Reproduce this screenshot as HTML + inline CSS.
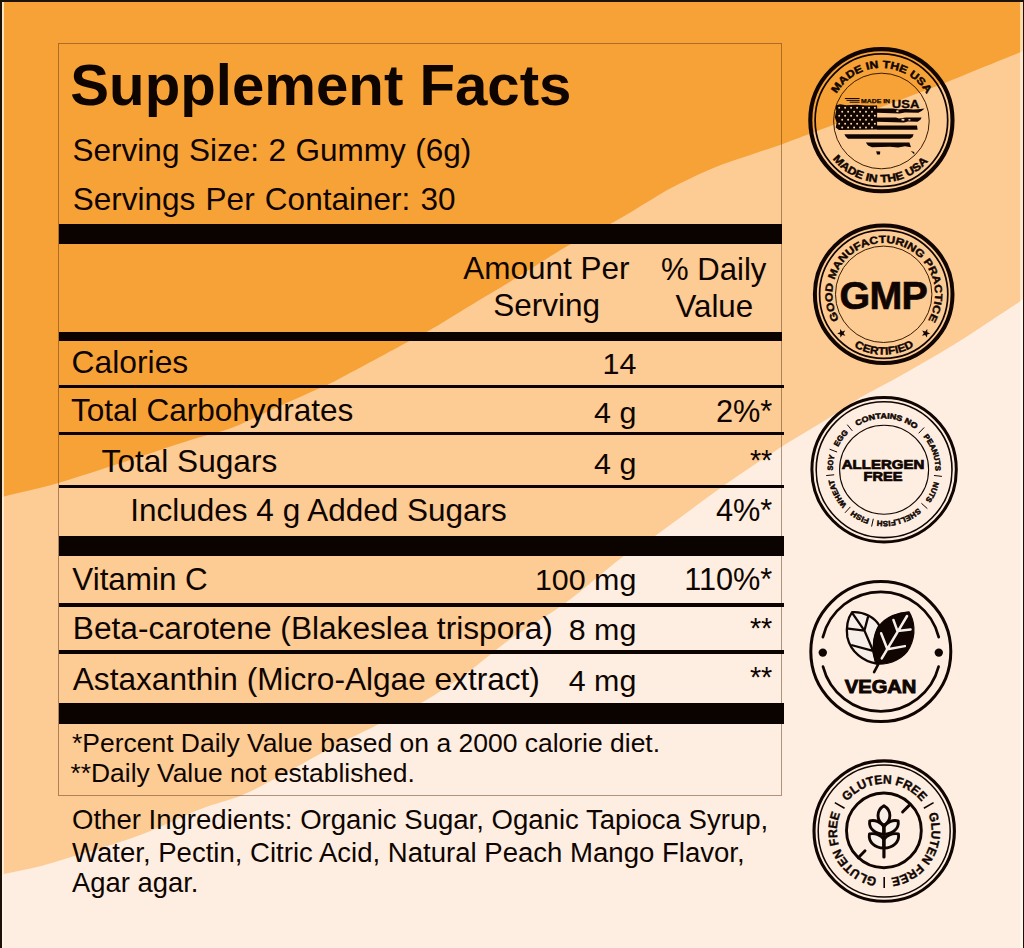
<!DOCTYPE html>
<html lang="en">
<head>
<meta charset="utf-8">
<title>Supplement Facts</title>
<style>
html,body{margin:0;padding:0;}
body{width:1024px;height:948px;overflow:hidden;background:#FEEEE1;font-family:"Liberation Sans",sans-serif;color:#0e0500;}
#page{position:relative;width:1024px;height:948px;overflow:hidden;}
.bg{position:absolute;left:0;top:0;display:block;}
.t{position:absolute;white-space:nowrap;color:#0e0500;}
.ln,.edge{position:absolute;}
.box{position:absolute;box-sizing:border-box;border:1.5px solid rgba(95,55,25,.5);}
.badges{position:absolute;left:0;top:0;}
</style>
</head>
<body>
<div id="page">
<svg class="bg" width="1024" height="948" viewBox="0 0 1024 948">
<rect width="1024" height="948" fill="#F7A236"/>
<path d="M-10.0,501.0 C-7.5,500.2 -6.3,499.3 5.0,496.3 C16.3,493.3 37.7,488.9 58.0,483.0 C78.3,477.1 105.2,468.1 127.0,461.0 C148.8,453.9 171.2,446.2 189.0,440.5 C206.8,434.8 219.3,432.5 234.0,427.0 C248.7,421.5 263.3,413.5 277.0,407.3 C290.7,401.1 306.0,394.4 316.0,389.8 C326.0,385.2 321.3,388.2 337.0,380.0 C352.7,371.8 394.2,349.2 410.4,340.5 C426.6,331.8 423.9,333.6 434.3,327.5 C444.7,321.4 459.4,312.1 473.0,303.9 C486.6,295.7 499.8,288.0 515.9,278.1 C532.0,268.2 553.1,254.2 569.6,244.8 C586.1,235.4 601.5,228.8 614.7,221.5 C628.0,214.2 639.4,206.8 649.1,201.0 C658.8,195.2 661.9,192.7 673.0,187.0 C684.1,181.3 701.6,172.8 715.9,167.0 C730.2,161.2 748.0,155.8 758.9,152.0 C769.8,148.2 772.5,147.7 781.5,144.4 C790.5,141.2 796.5,138.7 812.9,132.5 C829.3,126.3 857.5,116.0 880.0,107.5 C902.5,99.0 930.3,88.5 947.7,81.7 C965.1,74.9 972.0,71.8 984.2,66.8 C996.4,61.8 1011.5,55.8 1020.8,52.0 C1030.1,48.2 1036.8,45.3 1040.0,44.0 L1040,958 L-10,958 Z" fill="#FDCB94"/>
<path d="M-10.0,877.0 C-7.7,876.5 -4.3,875.8 3.9,874.0 C12.1,872.2 29.0,869.0 39.0,866.5 C49.0,864.0 52.0,862.8 64.0,859.2 C76.0,855.6 96.1,850.0 110.9,845.1 C125.7,840.2 138.2,835.9 153.0,829.9 C167.8,823.9 185.2,815.0 200.0,809.2 C214.8,803.4 229.1,800.5 242.0,795.2 C254.9,789.9 264.8,784.1 277.2,777.6 C289.6,771.1 304.6,762.5 316.3,756.1 C328.0,749.8 337.7,744.5 347.5,739.5 C357.3,734.5 362.6,732.2 375.0,726.0 C387.4,719.8 406.7,711.3 422.0,702.5 C437.3,693.7 452.5,683.4 467.0,673.0 C481.5,662.6 492.5,651.8 509.0,640.0 C525.5,628.2 547.4,616.1 566.0,602.5 C584.6,588.9 605.6,569.7 620.6,558.5 C635.6,547.3 638.3,547.8 655.7,535.5 C673.1,523.2 703.6,499.7 725.0,484.7 C746.4,469.7 766.9,456.3 784.0,445.3 C801.1,434.3 815.0,426.6 827.7,418.7 C840.4,410.8 849.3,404.1 860.0,397.8 C870.7,391.5 881.3,386.5 892.0,380.6 C902.7,374.7 913.4,368.5 924.1,362.3 C934.8,356.1 945.4,349.9 956.1,343.2 C966.8,336.5 977.7,329.2 988.1,322.4 C998.5,315.6 1009.9,308.1 1018.5,302.4 C1027.2,296.7 1036.4,290.4 1040.0,288.0 L1040,958 L-10,958 Z" fill="#FEEEE1"/>
</svg>
<div class="edge" style="left:0;top:0;width:1024px;height:2px;background:#1d1208"></div>
<div class="edge" style="left:0;top:0;width:2px;height:948px;background:#1d1208"></div>
<div class="edge" style="left:2px;top:2px;width:1.5px;height:946px;background:rgba(255,246,232,.78)"></div>
<div class="edge" style="left:1020px;top:2px;width:2.5px;height:946px;background:rgba(255,250,240,.62)"></div>
<div class="edge" style="left:1022.5px;top:0;width:1.5px;height:948px;background:#1d1208"></div>
<div class="box" style="left:58px;top:43px;width:724px;height:753px"></div>
<div class="t" style="font-size:58.2px;line-height:58.2px;top:55.83px;font-weight:700;left:70.30px;">Supplement Facts</div>
<div class="t" style="font-size:31.5px;line-height:31.5px;top:135.14px;left:72.60px;word-spacing:.75px;">Serving Size: 2 Gummy (6g)</div>
<div class="t" style="font-size:31.5px;line-height:31.5px;top:183.94px;left:72.80px;word-spacing:1.5px;">Servings Per Container: 30</div>
<div class="ln" style="left:58.5px;top:224px;width:723.5px;height:20px;background:#0a0300"></div>
<div class="t" style="font-size:31.5px;line-height:31.5px;top:253.24px;left:246.30px;width:600px;text-align:center;">Amount Per</div>
<div class="t" style="font-size:31.5px;line-height:31.5px;top:290.34px;left:246.60px;width:600px;text-align:center;">Serving</div>
<div class="t" style="font-size:31.1px;line-height:31.1px;top:253.57px;left:413.70px;width:600px;text-align:center;">% Daily</div>
<div class="t" style="font-size:31.3px;line-height:31.3px;top:290.50px;left:414.30px;width:600px;text-align:center;">Value</div>
<div class="ln" style="left:58.5px;top:332.4px;width:723.5px;height:8.600000000000023px;background:#0a0300"></div>
<div class="t" style="font-size:31.8px;line-height:31.8px;top:347.28px;left:71.60px;">Calories</div>
<div class="t" style="font-size:30.4px;line-height:30.4px;top:347.77px;right:387.70px;">14</div>
<div class="t" style="font-size:31.55px;line-height:31.55px;top:395.49px;left:71.00px;">Total Carbohydrates</div>
<div class="t" style="font-size:30.4px;line-height:30.4px;top:396.77px;right:387.70px;">4 g</div>
<div class="t" style="font-size:30.7px;line-height:30.7px;top:396.81px;right:251.70px;">2%*</div>
<div class="t" style="font-size:31.6px;line-height:31.6px;top:446.35px;left:101.60px;">Total Sugars</div>
<div class="t" style="font-size:30.4px;line-height:30.4px;top:448.17px;right:387.70px;">4 g</div>
<div class="t" style="font-size:28.8px;line-height:28.8px;top:445.62px;right:251.70px;">**</div>
<div class="t" style="font-size:31.5px;line-height:31.5px;top:495.04px;left:130.30px;">Includes 4 g Added Sugars</div>
<div class="t" style="font-size:30.7px;line-height:30.7px;top:496.31px;right:251.70px;">4%*</div>
<div class="t" style="font-size:31.4px;line-height:31.4px;top:563.52px;left:72.30px;">Vitamin C</div>
<div class="t" style="font-size:30.4px;line-height:30.4px;top:564.27px;right:387.70px;">100 mg</div>
<div class="t" style="font-size:30.7px;line-height:30.7px;top:564.71px;right:251.70px;">110%*</div>
<div class="t" style="font-size:31.65px;line-height:31.65px;top:612.61px;left:72.80px;">Beta-carotene (Blakeslea trispora)</div>
<div class="t" style="font-size:30.4px;line-height:30.4px;top:613.57px;right:387.70px;">8 mg</div>
<div class="t" style="font-size:28.8px;line-height:28.8px;top:613.52px;right:251.70px;">**</div>
<div class="t" style="font-size:31.6px;line-height:31.6px;top:664.15px;left:72.80px;">Astaxanthin (Micro-Algae extract)</div>
<div class="t" style="font-size:30.4px;line-height:30.4px;top:665.07px;right:387.70px;">4 mg</div>
<div class="t" style="font-size:28.8px;line-height:28.8px;top:662.72px;right:251.70px;">**</div>
<div class="ln" style="left:58.5px;top:385px;width:725.2px;height:3.3999999999999773px;background:#0a0300"></div>
<div class="ln" style="left:58.5px;top:432px;width:725.2px;height:3.3999999999999773px;background:#0a0300"></div>
<div class="ln" style="left:58.5px;top:484.6px;width:725.2px;height:3.3999999999999773px;background:#0a0300"></div>
<div class="ln" style="left:58.5px;top:603px;width:725.2px;height:3.5px;background:#0a0300"></div>
<div class="ln" style="left:58.5px;top:650.3px;width:725.2px;height:3.5px;background:#0a0300"></div>
<div class="ln" style="left:58.5px;top:536.3px;width:725.2px;height:19.700000000000045px;background:#0a0300"></div>
<div class="ln" style="left:58.5px;top:702.6px;width:725.2px;height:21.0px;background:#0a0300"></div>
<div class="t" style="font-size:26.47px;line-height:26.47px;top:729.79px;left:72.00px;">*Percent Daily Value based on a 2000 calorie diet.</div>
<div class="t" style="font-size:26.4px;line-height:26.4px;top:760.05px;left:70.50px;">**Daily Value not established.</div>
<div class="t" style="font-size:27.55px;line-height:27.55px;top:806.48px;left:72.00px;">Other Ingredients: Organic Sugar, Oganic Tapioca Syrup,</div>
<div class="t" style="font-size:27.55px;line-height:27.55px;top:838.98px;left:72.00px;">Water, Pectin, Citric Acid, Natural Peach Mango Flavor,</div>
<div class="t" style="font-size:27.4px;line-height:27.4px;top:869.31px;left:72.00px;">Agar agar.</div>
<svg class="badges" width="1024" height="948" viewBox="0 0 1024 948" font-family="'Liberation Sans',sans-serif">
<circle cx="881.4" cy="120.2" r="71.1" fill="none" stroke="#100500" stroke-width="4.1"/>
<circle cx="881.4" cy="120.2" r="66.3" fill="none" stroke="#100500" stroke-width="1.7"/>
<circle cx="881.4" cy="121.0" r="47.8" fill="none" stroke="#3a1c00" stroke-width="1.0"/>
<path id="p1" d="M836.42,93.71 A52.20,52.20 0 0 1 926.38,93.71" fill="none"/>
<text font-size="10.4" font-weight="700" fill="#100500" stroke="#100500" stroke-width="0.45"><textPath href="#p1" textLength="108.4" lengthAdjust="spacingAndGlyphs">MADE IN THE USA</textPath></text>
<path id="p2" d="M832.64,158.98 A62.30,62.30 0 0 0 928.06,161.48" fill="none"/>
<text font-size="10.8" font-weight="700" fill="#100500" stroke="#100500" stroke-width="0.45"><textPath href="#p2" textLength="108.7" lengthAdjust="spacingAndGlyphs">MADE IN THE USA</textPath></text>
<path d="M 835.74,105.62 L 840.04,104.33 L 846.48,105.19 L 856.15,104.76 L 865.82,105.41 L 877.09,105.62 L 877.09,129.58 L 838.96,129.90 L 835.74,127.43 L 836.60,122.59 L 834.88,117.22 L 836.17,110.78 Z" fill="#100500"/><g fill="#fbd3a6"><circle cx="839.2" cy="107.8" r="1.0"/><circle cx="845.1" cy="107.8" r="1.0"/><circle cx="851.1" cy="107.8" r="1.0"/><circle cx="857.1" cy="107.8" r="1.0"/><circle cx="863.0" cy="107.8" r="1.0"/><circle cx="869.0" cy="107.8" r="1.0"/><circle cx="874.9" cy="107.8" r="1.0"/><circle cx="842.2" cy="111.7" r="1.0"/><circle cx="848.1" cy="111.7" r="1.0"/><circle cx="854.1" cy="111.7" r="1.0"/><circle cx="860.1" cy="111.7" r="1.0"/><circle cx="866.0" cy="111.7" r="1.0"/><circle cx="872.0" cy="111.7" r="1.0"/><circle cx="839.2" cy="115.7" r="1.0"/><circle cx="845.1" cy="115.7" r="1.0"/><circle cx="851.1" cy="115.7" r="1.0"/><circle cx="857.1" cy="115.7" r="1.0"/><circle cx="863.0" cy="115.7" r="1.0"/><circle cx="869.0" cy="115.7" r="1.0"/><circle cx="874.9" cy="115.7" r="1.0"/><circle cx="842.2" cy="119.7" r="1.0"/><circle cx="848.1" cy="119.7" r="1.0"/><circle cx="854.1" cy="119.7" r="1.0"/><circle cx="860.1" cy="119.7" r="1.0"/><circle cx="866.0" cy="119.7" r="1.0"/><circle cx="872.0" cy="119.7" r="1.0"/><circle cx="839.2" cy="123.7" r="1.0"/><circle cx="845.1" cy="123.7" r="1.0"/><circle cx="851.1" cy="123.7" r="1.0"/><circle cx="857.1" cy="123.7" r="1.0"/><circle cx="863.0" cy="123.7" r="1.0"/><circle cx="869.0" cy="123.7" r="1.0"/><circle cx="874.9" cy="123.7" r="1.0"/><circle cx="842.2" cy="127.6" r="1.0"/><circle cx="848.1" cy="127.6" r="1.0"/><circle cx="854.1" cy="127.6" r="1.0"/><circle cx="860.1" cy="127.6" r="1.0"/><circle cx="866.0" cy="127.6" r="1.0"/><circle cx="872.0" cy="127.6" r="1.0"/></g><path d="M877,108.6 L893,108.6 L899,109.6 L905,108.8 L913,109.6 L918,109.2 L924.5,108.4 L922,110.8 L918.4,112.8 L905,112.6 L899.5,113.4 L877,112.8 Z" fill="#100500"/><path d="M877,117.4 L896,117.4 L899,118.4 L906,117.6 L921.6,117.4 L920.4,119.8 L917.6,121.8 L908,121.6 L904,122.4 L877,121.8 Z" fill="#100500"/><path d="M877,125.6 L917,125.6 L917.6,129.7 L877,129.7 Z" fill="#100500"/><path d="M844.4,134.2 L913.6,134.2 L912.6,137 L910,138.7 L848,138.7 L845.6,136.6 Z" fill="#100500"/><path d="M865.8,142.6 L909.4,142.6 L911,147.2 L905,146.2 L898,147.4 L890,146.8 L872,147.2 L868,145.6 Z" fill="#100500"/><path d="M876.2,151.2 L880.2,151.4 L880,154.6 L877,154.4 Z" fill="#100500"/><path d="M910.8,151 L914.2,152 L914.4,154.6 Z" fill="#100500"/><path d="M896.5,110.2 l2.2,0.4 l-0.4,1.6 l-2,-0.2 Z M901.5,118.8 l3,0.3 l-0.3,1.7 l-2.6,-0.2 Z M908.5,119 l2,0.2 l-0.2,1.4 l-1.8,-0.1 Z" fill="#fbd3a6"/><path d="M 844.87,98.53 L 859.59,98.53 M 846.48,100.36 L 859.59,100.36 M 849.70,102.19 L 859.59,102.19" stroke="#100500" stroke-width="1.0" fill="none"/>
<text x="861" y="102.8" font-size="6.1" font-weight="700" fill="#100500" stroke="#100500" stroke-width=".25" textLength="29" lengthAdjust="spacingAndGlyphs">MADE IN</text>
<text x="891.8" y="108.2" font-size="11.6" font-weight="700" fill="#100500" stroke="#100500" stroke-width=".3" textLength="27.6" lengthAdjust="spacingAndGlyphs">USA</text>
<circle cx="883.7" cy="294.3" r="68.8" fill="none" stroke="#100500" stroke-width="4.0"/>
<circle cx="883.7" cy="294.3" r="64.1" fill="none" stroke="#100500" stroke-width="1.7"/>
<circle cx="883.7" cy="294.3" r="48.2" fill="none" stroke="#3a1c00" stroke-width="1.0"/>
<path id="p3" d="M839.05,319.56 A51.30,51.30 0 1 1 928.35,319.56" fill="none"/>
<text font-size="10.4" font-weight="700" fill="#100500" stroke="#100500" stroke-width="0.4"><textPath href="#p3" textLength="214.0" lengthAdjust="spacingAndGlyphs">GOOD MANUFACTURING PRACTICE</textPath></text>
<path id="p4" d="M854.23,347.02 A60.40,60.40 0 0 0 914.08,346.50" fill="none"/>
<text font-size="10.8" font-weight="700" fill="#100500" stroke="#100500" stroke-width="0.4"><textPath href="#p4" textLength="62.6" lengthAdjust="spacingAndGlyphs">CERTIFIED</textPath></text>
<polygon points="840.12,329.00 842.18,331.41 845.21,330.47 843.56,333.17 845.38,335.75 842.30,335.02 840.41,337.56 840.16,334.40 837.16,333.38 840.08,332.17" fill="#100500"/>
<polygon points="927.28,329.00 927.32,332.17 930.24,333.38 927.24,334.40 926.99,337.56 925.10,335.02 922.02,335.75 923.84,333.17 922.19,330.47 925.22,331.41" fill="#100500"/>
<text x="883.7" y="308.6" font-size="39.4" font-weight="700" fill="#100500" stroke="#100500" stroke-width=".7" text-anchor="middle" textLength="88.2" lengthAdjust="spacing">GMP</text>
<circle cx="884.1" cy="469.7" r="72.2" fill="none" stroke="#100500" stroke-width="3.0"/>
<circle cx="884.1" cy="469.7" r="67.9" fill="none" stroke="#100500" stroke-width="1.6"/>
<circle cx="884.1" cy="469.7" r="44.5" fill="none" stroke="#100500" stroke-width="1.1"/>
<path id="p5" d="M857.07,426.10 A51.30,51.30 0 0 1 915.40,429.06" fill="none"/>
<text font-size="7.6" font-weight="700" fill="#100500" stroke="#100500" stroke-width="0.5"><textPath href="#p5" textLength="62.1" lengthAdjust="spacingAndGlyphs">CONTAINS NO</textPath></text>
<path id="p6" d="M923.28,436.59 A51.30,51.30 0 0 1 935.38,470.95" fill="none"/>
<text font-size="7.6" font-weight="700" fill="#100500" stroke="#100500" stroke-width="0.5"><textPath href="#p6" textLength="37.2" lengthAdjust="spacingAndGlyphs">PEANUTS</textPath></text>
<path id="p7" d="M934.00,481.59 A51.30,51.30 0 0 1 925.34,500.21" fill="none"/>
<text font-size="7.6" font-weight="700" fill="#100500" stroke="#100500" stroke-width="0.5"><textPath href="#p7" textLength="20.7" lengthAdjust="spacingAndGlyphs">NUTS</textPath></text>
<path id="p8" d="M918.16,508.06 A51.30,51.30 0 0 1 877.14,520.53" fill="none"/>
<text font-size="7.6" font-weight="700" fill="#100500" stroke="#100500" stroke-width="0.5"><textPath href="#p8" textLength="44.2" lengthAdjust="spacingAndGlyphs">SHELLFISH</textPath></text>
<path id="p9" d="M869.44,518.86 A51.30,51.30 0 0 1 852.87,510.40" fill="none"/>
<text font-size="7.6" font-weight="700" fill="#100500" stroke="#100500" stroke-width="0.5"><textPath href="#p9" textLength="18.7" lengthAdjust="spacingAndGlyphs">FISH</textPath></text>
<path id="p10" d="M846.77,504.88 A51.30,51.30 0 0 1 833.76,479.58" fill="none"/>
<text font-size="7.6" font-weight="700" fill="#100500" stroke="#100500" stroke-width="0.5"><textPath href="#p10" textLength="28.8" lengthAdjust="spacingAndGlyphs">WHEAT</textPath></text>
<path id="p11" d="M832.81,470.60 A51.30,51.30 0 0 1 834.76,455.65" fill="none"/>
<text font-size="7.6" font-weight="700" fill="#100500" stroke="#100500" stroke-width="0.5"><textPath href="#p11" textLength="15.1" lengthAdjust="spacingAndGlyphs">SOY</textPath></text>
<path id="p12" d="M838.07,447.05 A51.30,51.30 0 0 1 848.40,432.86" fill="none"/>
<text font-size="7.6" font-weight="700" fill="#100500" stroke="#100500" stroke-width="0.5"><textPath href="#p12" textLength="17.6" lengthAdjust="spacingAndGlyphs">EGG</textPath></text>
<path d="M918.66,433.29 L924.16,427.48" stroke="#100500" stroke-width="1.0"/>
<path d="M933.97,475.47 L941.91,476.39" stroke="#100500" stroke-width="1.0"/>
<path d="M921.41,503.29 L927.35,508.64" stroke="#100500" stroke-width="1.0"/>
<path d="M873.32,518.73 L871.60,526.54" stroke="#100500" stroke-width="1.0"/>
<path d="M850.38,506.89 L845.01,512.81" stroke="#100500" stroke-width="1.0"/>
<path d="M834.16,474.77 L826.20,475.58" stroke="#100500" stroke-width="1.0"/>
<path d="M837.11,452.04 L829.62,449.22" stroke="#100500" stroke-width="1.0"/>
<path d="M852.30,430.85 L847.24,424.66" stroke="#100500" stroke-width="1.0"/>
<text x="883.0" y="469.4" font-size="12.2" font-weight="700" fill="#100500" stroke="#100500" stroke-width="0.7" text-anchor="middle" textLength="82.5" lengthAdjust="spacingAndGlyphs">ALLERGEN</text>
<text x="883.0" y="480.6" font-size="12.2" font-weight="700" fill="#100500" stroke="#100500" stroke-width="0.7" text-anchor="middle" textLength="39" lengthAdjust="spacingAndGlyphs">FREE</text>
<circle cx="880.8" cy="651.6" r="70.0" fill="none" stroke="#100500" stroke-width="3.0"/>
<path d="M822.87,637.16 A59.70,59.70 0 0 1 938.73,637.16" fill="none" stroke="#100500" stroke-width="2.7" stroke-linecap="round"/>
<path d="M938.60,666.55 A59.70,59.70 0 0 1 823.00,666.55" fill="none" stroke="#100500" stroke-width="2.7" stroke-linecap="round"/>
<circle cx="822.8" cy="652.6" r="4.2" fill="#100500"/><circle cx="938.8" cy="652.6" r="4.2" fill="#100500"/>
<path d="M 852.14,612.13 C 864.00,611.25 874.54,617.57 879.38,625.48 C 873.66,635.15 871.91,649.21 876.48,663.62 C 864.00,661.51 850.82,652.72 847.30,636.91 C 845.98,626.36 848.18,617.57 852.14,612.13 Z" fill="#f6eee8" stroke="#100500" stroke-width="2.3" stroke-linejoin="round"/>
<path d="M 853.01,614.06 L 864.44,630.58 L 872.96,650.53 L 876.30,662.83 M 864.44,630.58 L 867.95,617.14 M 864.44,630.58 L 848.18,628.56 M 872.96,650.79 L 852.14,645.25" fill="none" stroke="#100500" stroke-width="2.3" stroke-linecap="round" stroke-linejoin="round"/>
<path d="M 908.99,611.86 C 914.09,620.21 916.72,633.39 909.69,647.45 C 904.42,658.00 891.24,664.59 877.00,664.15 C 871.91,652.72 871.91,638.66 878.94,626.36 C 885.97,616.70 898.27,612.30 908.99,611.86 Z" fill="#100500" stroke="#100500" stroke-width="1.2" stroke-linejoin="round"/>
<path d="M 907.06,615.99 L 881.75,658.44 M 897.39,630.93 L 893.44,620.04 M 897.57,630.93 L 910.57,629.44 M 887.37,649.21 L 881.13,633.22 M 887.55,649.21 L 904.86,646.13" fill="none" stroke="#f6eee8" stroke-width="2.5" stroke-linecap="round"/>
<path d="M 878.06,664.59 L 874.10,672.06" fill="none" stroke="#100500" stroke-width="2.6" stroke-linecap="round"/>
<text x="880.5999999999999" y="692.7" font-size="17.8" font-weight="700" fill="#100500" stroke="#100500" stroke-width="0.9" text-anchor="middle" textLength="71.6" lengthAdjust="spacingAndGlyphs">VEGAN</text>
<circle cx="884.2" cy="831.1" r="70.2" fill="none" stroke="#100500" stroke-width="3.1"/>
<circle cx="884.2" cy="831.1" r="66.0" fill="none" stroke="#100500" stroke-width="1.5"/>
<circle cx="883.9" cy="830.4" r="37.4" fill="none" stroke="#100500" stroke-width="2.9"/>
<path id="p13" d="M847.34,801.46 A47.30,47.30 0 0 1 921.27,801.72" fill="none"/>
<text font-size="12.4" font-weight="700" fill="#100500" stroke="#100500" stroke-width="0.4"><textPath href="#p13" textLength="84.9" lengthAdjust="spacingAndGlyphs">GLUTEN FREE</textPath></text>
<path d="M844.54,808.20 L834.84,802.60" stroke="#100500" stroke-width="1.6"/>
<path id="p14" d="M928.30,814.00 A47.30,47.30 0 0 1 891.11,877.89" fill="none"/>
<text font-size="12.4" font-weight="700" fill="#100500" stroke="#100500" stroke-width="0.4"><textPath href="#p14" textLength="84.9" lengthAdjust="spacingAndGlyphs">GLUTEN FREE</textPath></text>
<path d="M923.86,808.20 L933.56,802.60" stroke="#100500" stroke-width="1.6"/>
<path id="p15" d="M876.96,877.84 A47.30,47.30 0 0 1 840.22,813.69" fill="none"/>
<text font-size="12.4" font-weight="700" fill="#100500" stroke="#100500" stroke-width="0.4"><textPath href="#p15" textLength="84.9" lengthAdjust="spacingAndGlyphs">GLUTEN FREE</textPath></text>
<path d="M884.20,876.90 L884.20,888.10" stroke="#100500" stroke-width="1.6"/>
<path d="M 883.94,805.64 C 891.85,810.21 891.85,820.76 883.94,825.33 C 876.03,820.76 876.03,810.21 883.94,805.64 Z" fill="#f8efe8" stroke="#100500" stroke-width="2.9" stroke-linejoin="round"/>
<path d="M 883.94,834.38 C 875.15,833.94 868.56,828.66 869.70,820.93 C 875.15,819.44 881.30,822.51 883.94,826.73 Z" fill="#f8efe8" stroke="#100500" stroke-width="2.9" stroke-linejoin="round"/>
<path d="M 883.94,834.38 C 892.72,833.94 899.31,828.66 898.17,820.93 C 892.72,819.44 886.57,822.51 883.94,826.73 Z" fill="#f8efe8" stroke="#100500" stroke-width="2.9" stroke-linejoin="round"/>
<path d="M 883.94,848.00 C 874.71,848.00 868.12,841.85 869.44,833.94 C 875.15,832.62 881.30,835.25 883.94,839.38 Z" fill="#f8efe8" stroke="#100500" stroke-width="2.9" stroke-linejoin="round"/>
<path d="M 883.94,848.00 C 893.16,848.00 899.75,841.85 898.44,833.94 C 892.72,832.62 886.57,835.25 883.94,839.38 Z" fill="#f8efe8" stroke="#100500" stroke-width="2.9" stroke-linejoin="round"/>
<path d="M 883.94,825.33 L 883.94,856.96" fill="none" stroke="#100500" stroke-width="3.2" stroke-linecap="round"/>
<path d="M 902.57,811.97 L 909.42,805.11 M 858.28,857.84 L 865.04,850.81" fill="none" stroke="#100500" stroke-width="2.9" stroke-linecap="round"/>
</svg>
</div>
</body>
</html>
